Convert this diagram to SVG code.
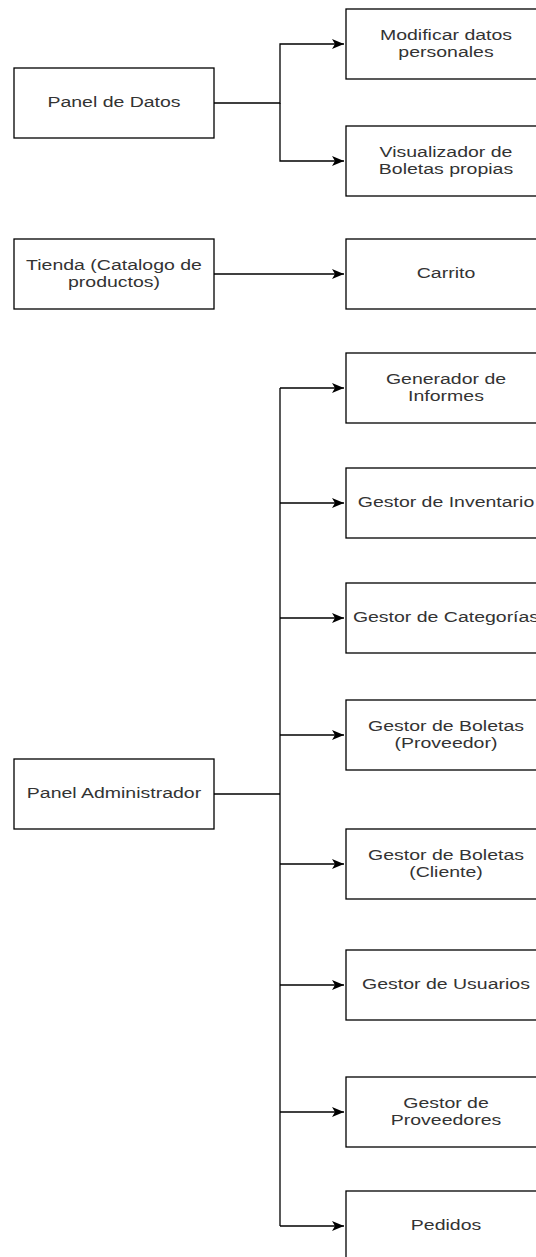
<svg xmlns="http://www.w3.org/2000/svg" width="536" height="1257" viewBox="0 0 536 1257">
<style>
.box{fill:#fff;stroke:#000;stroke-width:1.3}
.lbl{font-family:"Liberation Sans",Arial,sans-serif;font-size:15px;fill:#333;text-anchor:middle}
.edge{fill:none;stroke:#000;stroke-width:1.3}
</style>
<defs>
<marker id="arr" markerUnits="userSpaceOnUse" markerWidth="14" markerHeight="12" refX="12" refY="5" orient="auto">
<path d="M0,0 L12,5 L0,10 L3,5 Z" fill="#000"/>
</marker>
</defs>
<rect width="536" height="1257" fill="#fff"/>
<g id="connectors">
<path class="edge" d="M214,103 H280 V44 H344" marker-end="url(#arr)"/>
<path class="edge" d="M280,103 V161 H344" marker-end="url(#arr)"/>
<path class="edge" d="M214,274 H344" marker-end="url(#arr)"/>
<path class="edge" d="M214,794 H280"/>
<path class="edge" d="M280,388 V1226"/>
<path class="edge" d="M280,388 H344" marker-end="url(#arr)"/>
<path class="edge" d="M280,503 H344" marker-end="url(#arr)"/>
<path class="edge" d="M280,618 H344" marker-end="url(#arr)"/>
<path class="edge" d="M280,735 H344" marker-end="url(#arr)"/>
<path class="edge" d="M280,864 H344" marker-end="url(#arr)"/>
<path class="edge" d="M280,985 H344" marker-end="url(#arr)"/>
<path class="edge" d="M280,1112 H344" marker-end="url(#arr)"/>
<path class="edge" d="M280,1226 H344" marker-end="url(#arr)"/>
</g>
<g id="panel-datos">
<rect class="box" x="14" y="68" width="200" height="70"/>
<text class="lbl" transform="matrix(1.3 0 0 1 114 0)" x="0" y="107.5">Panel de Datos</text>
</g>
<g id="modificar">
<rect class="box" x="346" y="9" width="200" height="70"/>
<text class="lbl" transform="matrix(1.3 0 0 1 446 0)" x="0" y="40">Modificar datos</text>
<text class="lbl" transform="matrix(1.3 0 0 1 446 0)" x="0" y="57">personales</text>
</g>
<g id="visualizador">
<rect class="box" x="346" y="126" width="200" height="70"/>
<text class="lbl" transform="matrix(1.3 0 0 1 446 0)" x="0" y="157">Visualizador de</text>
<text class="lbl" transform="matrix(1.3 0 0 1 446 0)" x="0" y="174">Boletas propias</text>
</g>
<g id="tienda">
<rect class="box" x="14" y="239" width="200" height="70"/>
<text class="lbl" transform="matrix(1.3 0 0 1 114 0)" x="0" y="270">Tienda (Catalogo de</text>
<text class="lbl" transform="matrix(1.3 0 0 1 114 0)" x="0" y="287">productos)</text>
</g>
<g id="carrito">
<rect class="box" x="346" y="239" width="200" height="70"/>
<text class="lbl" transform="matrix(1.3 0 0 1 446 0)" x="0" y="278.5">Carrito</text>
</g>
<g id="generador">
<rect class="box" x="346" y="353" width="200" height="70"/>
<text class="lbl" transform="matrix(1.3 0 0 1 446 0)" x="0" y="384">Generador de</text>
<text class="lbl" transform="matrix(1.3 0 0 1 446 0)" x="0" y="401">Informes</text>
</g>
<g id="inventario">
<rect class="box" x="346" y="468" width="200" height="70"/>
<text class="lbl" transform="matrix(1.3 0 0 1 446 0)" x="0" y="507.5">Gestor de Inventario</text>
</g>
<g id="categorias">
<rect class="box" x="346" y="583" width="200" height="70"/>
<text class="lbl" transform="matrix(1.3 0 0 1 446 0)" x="0" y="622.5">Gestor de Categorías</text>
</g>
<g id="boletas-proveedor">
<rect class="box" x="346" y="700" width="200" height="70"/>
<text class="lbl" transform="matrix(1.3 0 0 1 446 0)" x="0" y="731">Gestor de Boletas</text>
<text class="lbl" transform="matrix(1.3 0 0 1 446 0)" x="0" y="748">(Proveedor)</text>
</g>
<g id="panel-admin">
<rect class="box" x="14" y="759" width="200" height="70"/>
<text class="lbl" transform="matrix(1.3 0 0 1 114 0)" x="0" y="798.5">Panel Administrador</text>
</g>
<g id="boletas-cliente">
<rect class="box" x="346" y="829" width="200" height="70"/>
<text class="lbl" transform="matrix(1.3 0 0 1 446 0)" x="0" y="860">Gestor de Boletas</text>
<text class="lbl" transform="matrix(1.3 0 0 1 446 0)" x="0" y="877">(Cliente)</text>
</g>
<g id="usuarios">
<rect class="box" x="346" y="950" width="200" height="70"/>
<text class="lbl" transform="matrix(1.3 0 0 1 446 0)" x="0" y="989.5">Gestor de Usuarios</text>
</g>
<g id="proveedores">
<rect class="box" x="346" y="1077" width="200" height="70"/>
<text class="lbl" transform="matrix(1.3 0 0 1 446 0)" x="0" y="1108">Gestor de</text>
<text class="lbl" transform="matrix(1.3 0 0 1 446 0)" x="0" y="1125">Proveedores</text>
</g>
<g id="pedidos">
<rect class="box" x="346" y="1191" width="200" height="70"/>
<text class="lbl" transform="matrix(1.3 0 0 1 446 0)" x="0" y="1230.5">Pedidos</text>
</g>
</svg>
